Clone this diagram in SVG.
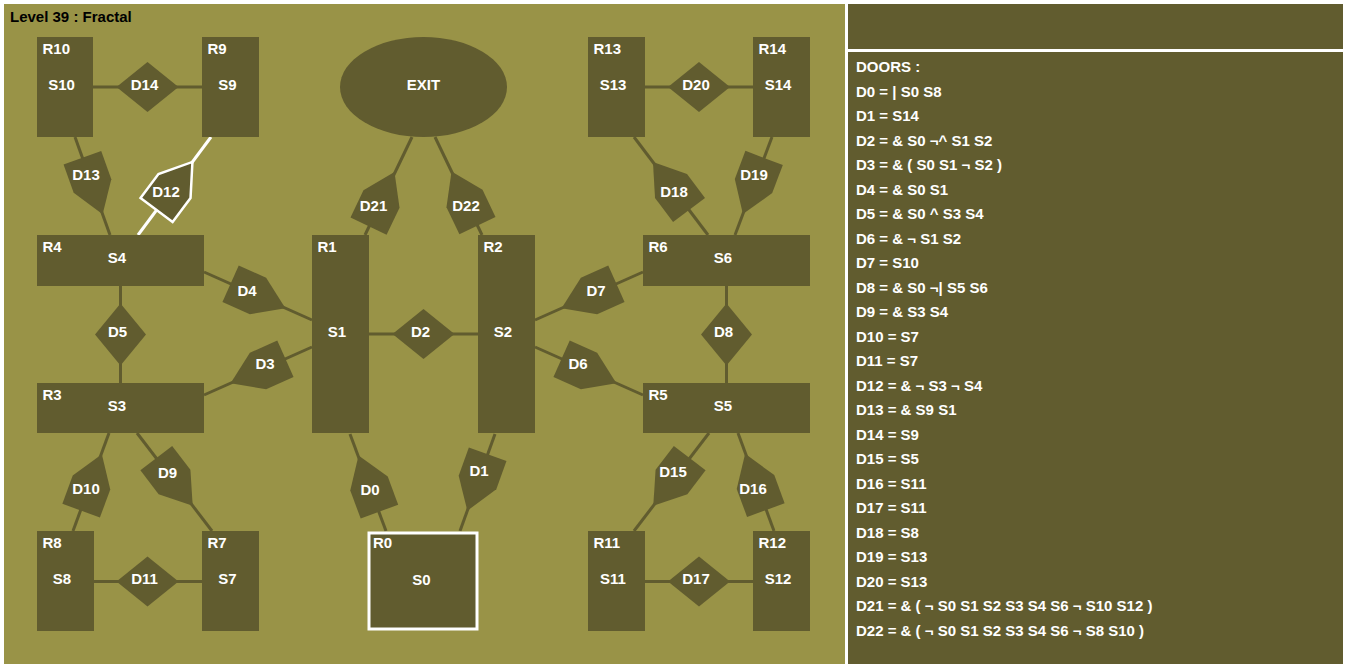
<svg xmlns="http://www.w3.org/2000/svg" width="1346" height="668" viewBox="0 0 1346 668">
<defs>
<style>
text{font-family:"Liberation Sans",Arial,Helvetica,sans-serif;font-weight:bold;font-size:15px;fill:#ffffff}
.title{fill:#000000}
.m{text-anchor:middle}
.room{fill:#615c2f}
.door{fill:#615c2f}
.sel{fill:#615c2f;stroke:#ffffff;stroke-width:2.5;stroke-linejoin:miter}
.conn line{stroke:#615c2f;stroke-width:3}
.conn line.hl{stroke:#ffffff}
</style>
<polygon id="pent" points="-30,-20 0,-20 30,0 0,20 -30,20"/>
<polygon id="dh" points="-31,0 0,-25 31,0 0,25"/>
<polygon id="dv" points="-25.5,0 0,-31 25.5,0 0,31"/>
</defs>
<rect x="0" y="0" width="1346" height="668" fill="#ffffff"/>
<rect x="4" y="4" width="841" height="660" fill="#999347"/>
<rect x="848" y="4" width="495" height="45" fill="#615c2f"/>
<rect x="848" y="52" width="495" height="612" fill="#615c2f"/>
<text class="title" x="10" y="22">Level 39 : Fractal</text>

<g id="connectors" class="conn">
<line x1="93" y1="87" x2="202" y2="87"/>
<line x1="369" y1="334" x2="478" y2="334"/>
<line x1="645" y1="87" x2="753" y2="87"/>
<line x1="94" y1="581.5" x2="202" y2="581.5"/>
<line x1="645" y1="581.5" x2="753" y2="581.5"/>
<line x1="120.5" y1="286" x2="120.5" y2="383"/>
<line x1="726.5" y1="286" x2="726.5" y2="383"/>
<line x1="75" y1="137" x2="110" y2="235"/>
<line class="hl" x1="211" y1="137" x2="138" y2="235"/>
<line x1="204" y1="272" x2="312" y2="320"/>
<line x1="204" y1="395" x2="312" y2="347"/>
<line x1="412" y1="137" x2="365" y2="235"/>
<line x1="435" y1="137" x2="482" y2="235"/>
<line x1="350" y1="434" x2="386" y2="531"/>
<line x1="495" y1="434" x2="460" y2="531"/>
<line x1="109" y1="433" x2="73" y2="531"/>
<line x1="137" y1="433" x2="212" y2="531"/>
<line x1="535" y1="320" x2="643" y2="272"/>
<line x1="535" y1="347" x2="643" y2="395"/>
<line x1="634" y1="137" x2="708" y2="235"/>
<line x1="772" y1="137" x2="735" y2="235"/>
<line x1="709" y1="433" x2="634" y2="531"/>
<line x1="738" y1="433" x2="774" y2="531"/>
</g>

<g id="EXIT"><ellipse cx="423.5" cy="87" rx="83.5" ry="50" class="room"/><text class="m" x="423.5" y="89.5">EXIT</text></g>

<g id="R10"><rect class="room" x="37" y="37" width="56" height="100"/><text x="42.5" y="54">R10</text><text class="m" x="61.5" y="89.5">S10</text></g>
<g id="R9"><rect class="room" x="202" y="37" width="57" height="100"/><text x="207.5" y="54">R9</text><text class="m" x="227.5" y="89.5">S9</text></g>
<g id="R13"><rect class="room" x="588" y="37" width="57" height="100"/><text x="593.5" y="54">R13</text><text class="m" x="613" y="89.5">S13</text></g>
<g id="R14"><rect class="room" x="753" y="37" width="57" height="100"/><text x="758.5" y="54">R14</text><text class="m" x="778" y="89.5">S14</text></g>
<g id="R4"><rect class="room" x="37" y="235" width="167" height="51"/><text x="42.5" y="252">R4</text><text class="m" x="117" y="263">S4</text></g>
<g id="R3"><rect class="room" x="37" y="383" width="167" height="50"/><text x="42.5" y="400">R3</text><text class="m" x="117" y="410.5">S3</text></g>
<g id="R1"><rect class="room" x="312" y="235" width="57" height="198"/><text x="317.5" y="252">R1</text><text class="m" x="337" y="336.5">S1</text></g>
<g id="R2"><rect class="room" x="478" y="235" width="57" height="198"/><text x="483.5" y="252">R2</text><text class="m" x="503" y="336.5">S2</text></g>
<g id="R6"><rect class="room" x="643" y="235" width="167" height="51"/><text x="648.5" y="252">R6</text><text class="m" x="723" y="263">S6</text></g>
<g id="R5"><rect class="room" x="643" y="383" width="167" height="50"/><text x="648.5" y="400">R5</text><text class="m" x="723" y="410.5">S5</text></g>
<g id="R8"><rect class="room" x="37" y="531" width="57" height="100"/><text x="42.5" y="548">R8</text><text class="m" x="62" y="583.5">S8</text></g>
<g id="R7"><rect class="room" x="202" y="531" width="57" height="100"/><text x="207.5" y="548">R7</text><text class="m" x="227.5" y="583.5">S7</text></g>
<g id="R11"><rect class="room" x="588" y="531" width="57" height="100"/><text x="593.5" y="548">R11</text><text class="m" x="613" y="583.5">S11</text></g>
<g id="R12"><rect class="room" x="753" y="531" width="57" height="100"/><text x="758.5" y="548">R12</text><text class="m" x="778" y="583.5">S12</text></g>
<g id="R0"><rect x="369" y="533" width="108" height="96" fill="#615c2f" stroke="#ffffff" stroke-width="3"/><text x="373" y="548">R0</text><text class="m" x="421.5" y="584.5">S0</text></g>

<g id="D14"><use href="#dh" class="door" transform="translate(147.5,87)"/><text class="m" x="144.5" y="89.5">D14</text></g>
<g id="D2"><use href="#dh" class="door" transform="translate(423.5,334)"/><text class="m" x="420.5" y="336.5">D2</text></g>
<g id="D20"><use href="#dh" class="door" transform="translate(699,87)"/><text class="m" x="696" y="89.5">D20</text></g>
<g id="D11"><use href="#dh" class="door" transform="translate(147.5,581.5)"/><text class="m" x="144.5" y="584">D11</text></g>
<g id="D17"><use href="#dh" class="door" transform="translate(699,581.5)"/><text class="m" x="696" y="584">D17</text></g>
<g id="D5"><use href="#dv" class="door" transform="translate(120.5,334.5)"/><text class="m" x="117.5" y="337">D5</text></g>
<g id="D8"><use href="#dv" class="door" transform="translate(726.5,334.5)"/><text class="m" x="723.5" y="337">D8</text></g>

<g id="D13"><use href="#pent" class="door" transform="translate(92.5,186) rotate(70.3)"/><text class="m" x="86" y="179.5">D13</text></g>
<g id="D12"><use href="#pent" class="sel" transform="translate(174.5,186) rotate(-53.3)"/><text class="m" x="166" y="196.5">D12</text></g>
<g id="D4"><use href="#pent" class="door" transform="translate(258,296) rotate(24)"/><text class="m" x="247" y="295.5">D4</text></g>
<g id="D3"><use href="#pent" class="door" transform="translate(258,371) rotate(156)"/><text class="m" x="265" y="369">D3</text></g>
<g id="D21"><use href="#pent" class="door" transform="translate(381.5,199) rotate(-64.4)"/><text class="m" x="373.5" y="211">D21</text></g>
<g id="D22"><use href="#pent" class="door" transform="translate(464.5,198.5) rotate(-115.6)"/><text class="m" x="466" y="211">D22</text></g>
<g id="D0"><use href="#pent" class="door" transform="translate(369,483.5) rotate(-110.4)"/><text class="m" x="370" y="494.5">D0</text></g>
<g id="D1"><use href="#pent" class="door" transform="translate(477.5,482.5) rotate(109.8)"/><text class="m" x="479" y="475.5">D1</text></g>
<g id="D10"><use href="#pent" class="door" transform="translate(91.5,482.5) rotate(-69.8)"/><text class="m" x="86" y="494">D10</text></g>
<g id="D9"><use href="#pent" class="door" transform="translate(174.5,482) rotate(52.6)"/><text class="m" x="167.5" y="478">D9</text></g>
<g id="D7"><use href="#pent" class="door" transform="translate(589,296) rotate(156)"/><text class="m" x="596" y="295.5">D7</text></g>
<g id="D6"><use href="#pent" class="door" transform="translate(589,371) rotate(24)"/><text class="m" x="578" y="369">D6</text></g>
<g id="D18"><use href="#pent" class="door" transform="translate(671,186) rotate(-127)"/><text class="m" x="674" y="196.5">D18</text></g>
<g id="D19"><use href="#pent" class="door" transform="translate(753.5,186) rotate(110.7)"/><text class="m" x="754" y="179.5">D19</text></g>
<g id="D15"><use href="#pent" class="door" transform="translate(671.5,482) rotate(127.4)"/><text class="m" x="673" y="477">D15</text></g>
<g id="D16"><use href="#pent" class="door" transform="translate(755.5,482) rotate(-110.2)"/><text class="m" x="753" y="494">D16</text></g>

<g id="doors-list">
<text x="856" y="72">DOORS :</text>
<text x="856" y="96.5">D0 = | S0 S8</text>
<text x="856" y="121">D1 = S14</text>
<text x="856" y="145.5">D2 = &amp; S0 ¬^ S1 S2</text>
<text x="856" y="170">D3 = &amp; ( S0 S1 ¬ S2 )</text>
<text x="856" y="194.5">D4 = &amp; S0 S1</text>
<text x="856" y="219">D5 = &amp; S0 ^ S3 S4</text>
<text x="856" y="243.5">D6 = &amp; ¬ S1 S2</text>
<text x="856" y="268">D7 = S10</text>
<text x="856" y="292.5">D8 = &amp; S0 ¬| S5 S6</text>
<text x="856" y="317">D9 = &amp; S3 S4</text>
<text x="856" y="341.5">D10 = S7</text>
<text x="856" y="366">D11 = S7</text>
<text x="856" y="390.5">D12 = &amp; ¬ S3 ¬ S4</text>
<text x="856" y="415">D13 = &amp; S9 S1</text>
<text x="856" y="439.5">D14 = S9</text>
<text x="856" y="464">D15 = S5</text>
<text x="856" y="488.5">D16 = S11</text>
<text x="856" y="513">D17 = S11</text>
<text x="856" y="537.5">D18 = S8</text>
<text x="856" y="562">D19 = S13</text>
<text x="856" y="586.5">D20 = S13</text>
<text x="856" y="611">D21 = &amp; ( ¬ S0 S1 S2 S3 S4 S6 ¬ S10 S12 )</text>
<text x="856" y="635.5">D22 = &amp; ( ¬ S0 S1 S2 S3 S4 S6 ¬ S8 S10 )</text>
</g>
</svg>
